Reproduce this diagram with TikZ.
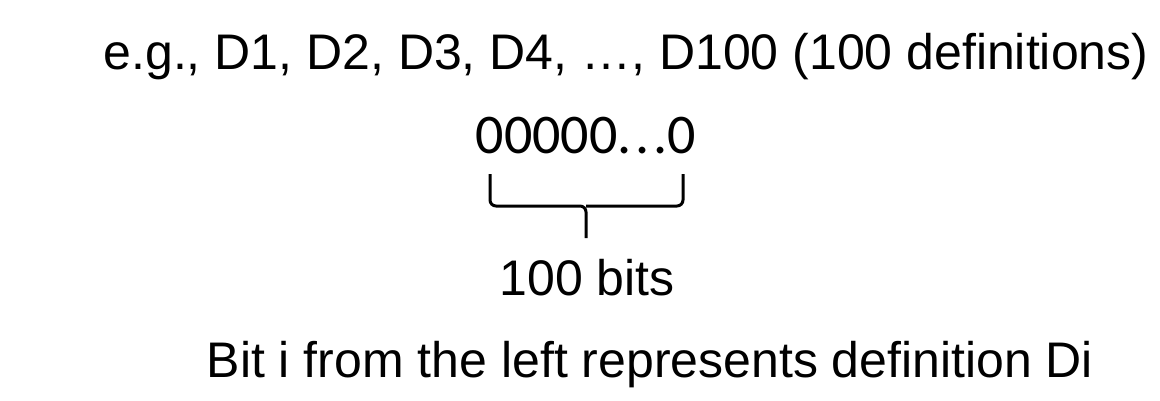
\documentclass[tikz,border=0pt]{standalone}
\usepackage{fontspec}
\setmainfont{Liberation Sans}
\newfontfamily\zerofont{Carlito}
\begin{document}
\begin{tikzpicture}[x=1pt,y=-1pt,
  txt/.style={inner sep=0pt, anchor=base, font=\fontsize{50}{58}\selectfont},
  bits/.style={inner sep=0pt, anchor=base, font=\zerofont\fontsize{56}{64}\selectfont},
  bracel/.style={line width=3pt, rounded corners=6pt}]
\useasboundingbox (0,0) rectangle (1160,400);
\fill[white] (0,0) rectangle (1160,400);
\node[txt] (top) at (626,69) {e.g., D1, D2, D3, D4, \dots, D100 (100 definitions)};
\node[bits] (zeros) at (586,153) {00000.\kern4pt.\kern4pt.0};
\coordinate (bl) at (490,174);
\coordinate (br) at (683,174);
\coordinate (bm) at (586,206);
\coordinate (bt) at (586,238);
\draw[bracel] (bl) |- (bm) -- (bt);
\draw[bracel] (br) |- (bm);
\node[txt] (hundred) at (587,295) {100 bits};
\node[txt] (expl) at (650,377) {Bit i from the left represents definition Di};
\end{tikzpicture}
\end{document}
